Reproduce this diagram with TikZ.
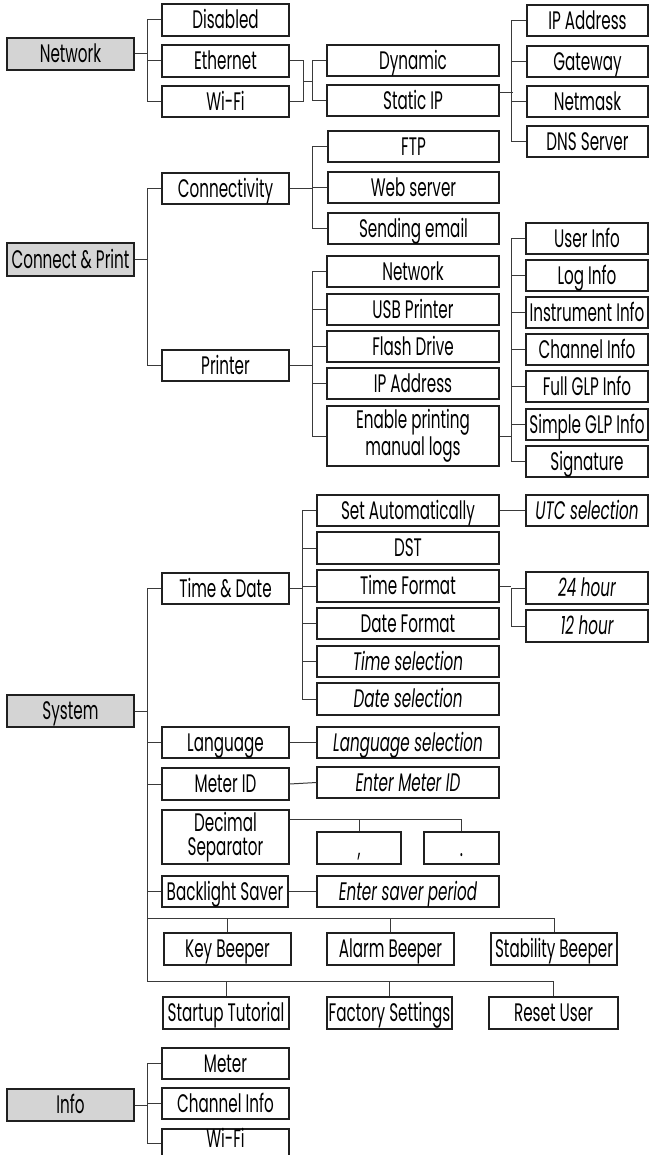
\documentclass[tikz,border=0pt]{standalone}
\usepackage{fontspec}
\setmainfont{Poppins}[FakeStretch=0.6]
\usetikzlibrary{calc}
\definecolor{hdr}{HTML}{D4D4D4}
\definecolor{ln}{HTML}{3A3A3A}
\definecolor{bd}{HTML}{202020}
\tikzset{
  box/.style={draw=bd, line width=0.9pt, inner sep=0pt, align=center,
    font=\fontsize{19}{18}\selectfont, text height=14pt, text depth=1pt},
  head/.style={fill=hdr},
  multi/.style={text height={}, text depth={}},
  conn/.style={draw=ln, line width=0.75pt},
}
\newcommand\mybox[7][]{\node[box,#1,minimum width={(#5-#3)*0.75pt},minimum height={(#6-#4)*0.75pt}] (#2) at ({(#3+#5)/2},{(#4+#6)/2}) {#7};}
\begin{document}
\begin{tikzpicture}[x=0.75pt,y=-0.75pt]
\useasboundingbox (0,0) rectangle (649,1155);
\clip (0,0) rectangle (649,1155);
% ---------- Network ----------
\mybox[head]{net}{7}{38}{134}{70}{Network}
\mybox{dis}{162}{4}{289}{36}{Disabled}
\mybox{eth}{162}{45}{289}{77}{Ethernet}
\mybox{wifi}{162}{86}{289}{117}{Wi-Fi}
\mybox{dyn}{327}{45}{499}{76}{Dynamic}
\mybox{sip}{327}{85}{499}{116}{Static IP}
\mybox{ipa}{527}{5}{648}{36}{IP Address}
\mybox{gw}{527}{46}{648}{77}{Gateway}
\mybox{nm}{527}{86}{648}{117}{Netmask}
\mybox{dns}{527}{126}{648}{157}{DNS Server}
\draw[conn] (net.east) -- ($(net.east -| dis.west)+(-14,0)$);
\draw[conn] (dis.west) -- ++(-14,0) |- (wifi.west);
\draw[conn] (eth.west) -- ++(-14,0);
\draw[conn] (eth.east) -- ++(14,0) |- (wifi.east);
\coordinate (ewj) at ($(eth.east)!0.5!(wifi.east)+(14,0)$);
\draw[conn] (ewj) -- ($(ewj -| dyn.west)+(-14,0)$);
\draw[conn] (dyn.west) -- ++(-14,0) |- (sip.west);
\draw[conn] ($(sip.east)+(0,-8)$) -- ($(sip.east)+(13,-8)$);
\draw[conn] (ipa.west) -- ++(-15,0) |- (dns.west);
\draw[conn] (gw.west) -- ++(-15,0);
\draw[conn] (nm.west) -- ++(-15,0);
% ---------- Connect & Print ----------
\mybox[head]{cp}{7}{243}{134}{276}{Connect \& Print}
\mybox{cn}{162}{173}{289}{204}{Connectivity}
\mybox{prn}{162}{350}{289}{381}{Printer}
\mybox{ftp}{328}{131}{499}{162}{FTP}
\mybox{web}{328}{172}{499}{203}{Web server}
\mybox{mail}{328}{213}{499}{244}{Sending email}
\mybox{pnet}{327}{256}{499}{287}{Network}
\mybox{usb}{327}{294}{499}{325}{USB Printer}
\mybox{flash}{327}{331}{499}{362}{Flash Drive}
\mybox{pip}{327}{368}{499}{399}{IP Address}
\mybox[multi]{enab}{327}{406}{499}{466}{Enable printing\\manual logs}
\mybox{usr}{526}{223}{648}{254}{User Info}
\mybox{log}{526}{260}{648}{291}{Log Info}
\mybox{ins}{526}{297}{648}{328}{Instrument Info}
\mybox{chi}{526}{334}{648}{365}{Channel Info}
\mybox{fglp}{526}{371}{648}{402}{Full GLP Info}
\mybox{sglp}{526}{409}{648}{440}{Simple GLP Info}
\mybox{sig}{526}{446}{648}{477}{Signature}
\draw[conn] (cp.east) -- ($(cp.east -| cn.west)+(-14,0)$);
\draw[conn] (cn.west) -- ++(-14,0) |- (prn.west);
\draw[conn] (cn.east) -- ($(cn.east -| ftp.west)+(-15,0)$);
\draw[conn] (ftp.west) -- ++(-15,0) |- (mail.west);
\draw[conn] (web.west) -- ++(-15,0);
\draw[conn] (prn.east) -- ($(prn.east -| pnet.west)+(-14,0)$);
\draw[conn] (pnet.west) -- ++(-14,0) |- (enab.west);
\draw[conn] (usb.west) -- ++(-14,0);
\draw[conn] (flash.west) -- ++(-14,0);
\draw[conn] (pip.west) -- ++(-14,0);
\draw[conn] (enab.east) -- ($(enab.east -| usr.west)+(-14,0)$);
\draw[conn] (usr.west) -- ++(-14,0) |- (sig.west);
\foreach \n in {log,ins,chi,fglp,sglp} \draw[conn] (\n.west) -- ++(-14,0);
% ---------- System ----------
\mybox[head]{sys}{7}{695}{134}{727}{System}
\mybox{td}{162}{573}{289}{604}{Time \& Date}
\mybox{lang}{162}{727}{289}{758}{Language}
\mybox{mid}{162}{768}{289}{800}{Meter ID}
\mybox[multi,font=\fontsize{19}{18}\selectfont]{dec}{162}{810}{289}{864}{Decimal\\Separator}
\mybox{bls}{162}{876}{288}{907}{Backlight Saver}
\mybox{key}{164}{933}{291}{965}{Key Beeper}
\mybox{alarm}{327}{933}{454}{965}{Alarm Beeper}
\mybox{stab}{491}{933}{617}{965}{Stability Beeper}
\mybox{start}{163}{997}{289}{1029}{Startup Tutorial}
\mybox{fact}{327}{997}{452}{1029}{Factory Settings}
\mybox{reset}{489}{997}{618}{1029}{Reset User}
\mybox{sa}{317}{495}{499}{526}{Set Automatically}
\mybox{dst}{317}{532}{499}{564}{DST}
\mybox{tf}{317}{570}{499}{602}{Time Format}
\mybox{df}{317}{608}{499}{639}{Date Format}
\mybox{ts}{317}{646}{499}{677}{\itshape Time selection}
\mybox{ds}{317}{683}{499}{715}{\itshape Date selection}
\mybox{ls}{317}{727}{499}{758}{\itshape Language selection}
\mybox{emi}{317}{767}{499}{798}{\itshape Enter Meter ID}
\mybox{comma}{317}{832}{401}{864}{,}
\mybox{dot}{424}{832}{499}{864}{.}
\mybox{esp}{317}{876}{499}{907}{\itshape Enter saver period}
\mybox{utc}{526}{495}{648}{526}{\itshape UTC selection}
\mybox{hA}{526}{572}{648}{604}{\itshape 24 hour}
\mybox{hB}{526}{610}{648}{642}{\itshape 12 hour}
\coordinate (rowA) at (0,918);
\coordinate (rowB) at (0,981);
\draw[conn] (sys.east) -- ($(sys.east -| td.west)+(-14,0)$);
\draw[conn] (td.west) -- ++(-14,0) |- (rowB -| reset.north) -- (reset.north);
\draw[conn] (lang.west) -- ++(-14,0);
\draw[conn] (mid.west) -- ++(-14,0);
\draw[conn] (bls.west) -- ++(-14,0);
\draw[conn] ($(rowA -| td.west)+(-14,0)$) -| (stab.north);
\draw[conn] (key.north) -- (key.north |- rowA);
\draw[conn] (alarm.north) -- (alarm.north |- rowA);
\draw[conn] (start.north) -- (start.north |- rowB);
\draw[conn] (fact.north) -- (fact.north |- rowB);
\draw[conn] (td.east) -- ($(td.east -| sa.west)+(-14,0)$);
\draw[conn] (sa.west) -- ++(-14,0) |- (ds.west);
\foreach \n in {dst,tf,df,ts} \draw[conn] (\n.west) -- ++(-14,0);
\draw[conn] (sa.east) -- (utc.west);
\draw[conn] (tf.east) -- ($(tf.east -| hA.west)+(-14,0)$);
\draw[conn] (hA.west) -- ++(-14,0) |- (hB.west);
\draw[conn] (lang.east) -- (ls.west);
\draw[conn] (mid.east) -- (emi.west);
\draw[conn] (bls.east) -- (esp.west);
\coordinate (decj) at ($(dec.north east)+(0,10)$);
\draw[conn] (decj) -| (dot.north);
\draw[conn] (comma.north) -- (comma.north |- decj);
% ---------- Info ----------
\mybox[head]{info}{7}{1089}{134}{1121}{Info}
\mybox{imet}{162}{1048}{289}{1079}{Meter}
\mybox{ich}{162}{1088}{289}{1119}{Channel Info}
\mybox{iwifi}{162}{1129}{289}{1157}{\raisebox{3pt}{Wi-Fi}}
\draw[conn] (info.east) -- ($(info.east -| imet.west)+(-14,0)$);
\draw[conn] (imet.west) -- ++(-14,0) |- (iwifi.west);
\draw[conn] (ich.west) -- ++(-14,0);
\end{tikzpicture}
\end{document}
